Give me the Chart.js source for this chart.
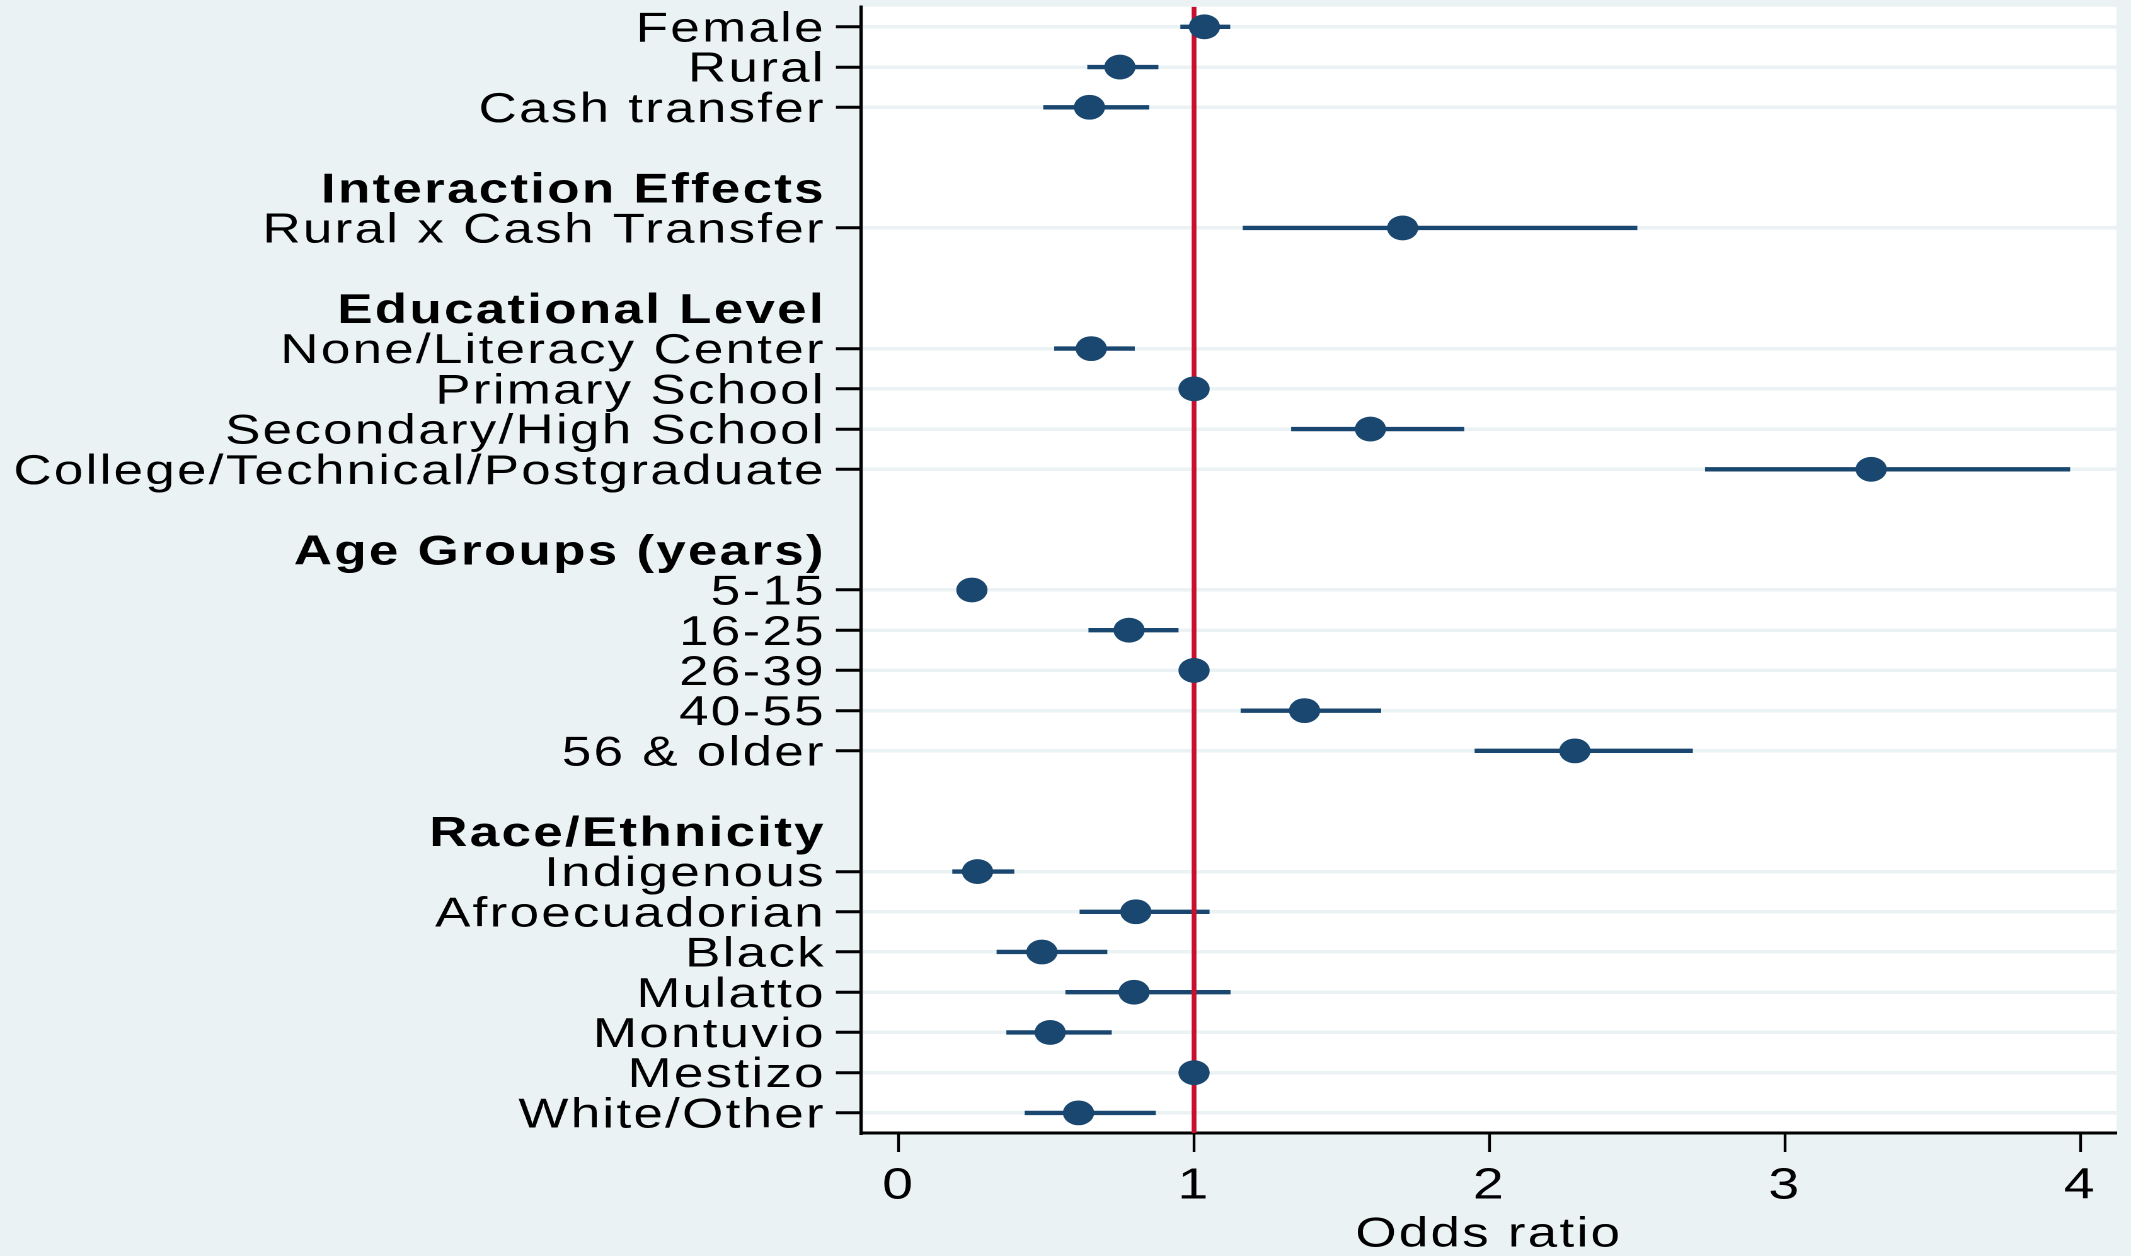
<!DOCTYPE html>
<html>
<head>
<meta charset="utf-8">
<script src="https://cdn.jsdelivr.net/npm/chart.js@4.4.1/dist/chart.umd.min.js"></script>
<style>
html, body { margin: 0; padding: 0; background: #eaf2f3; overflow: hidden; width: 2131px; height: 1256px; }
#wrap { position: absolute; left: 0; top: 0; width: 1691px; height: 1256px; transform: scaleX(1.26020); transform-origin: 0 0; }
</style>
</head>
<body>
<div id="wrap"><canvas id="c" width="1691" height="1256"></canvas></div>
<script>
// ---- data ----
const rowLabels = [
  'Female', 'Rural', 'Cash transfer', '',
  'Interaction Effects', 'Rural x Cash Transfer', '',
  'Educational Level', 'None/Literacy Center', 'Primary School', 'Secondary/High School', 'College/Technical/Postgraduate', '',
  'Age Groups (years)', '5-15', '16-25', '26-39', '40-55', '56 & older', '',
  'Race/Ethnicity', 'Indigenous', 'Afroecuadorian', 'Black', 'Mulatto', 'Montuvio', 'Mestizo', 'White/Other'
];
const headerLabels = ['Interaction Effects', 'Educational Level', 'Age Groups (years)', 'Race/Ethnicity'];
const oddsRatio = [1.035, 0.749, 0.646, null, null, 1.706, null, null, 0.652, 1.0, 1.597, 3.292, null,
                   null, 0.248, 0.780, 1.0, 1.374, 2.289, null, null, 0.267, 0.803, 0.485, 0.797, 0.513, 1.0, 0.609];
const ciLower   = [0.955, 0.640, 0.491, null, null, 1.166, null, null, 0.528, null, 1.330, 2.731, null,
                   null, 0.220, 0.644, null, 1.159, 1.951, null, null, 0.183, 0.614, 0.333, 0.566, 0.366, null, 0.428];
const ciUpper   = [1.121, 0.878, 0.847, null, null, 2.499, null, null, 0.798, null, 1.913, 3.964, null,
                   null, 0.280, 0.946, null, 1.632, 2.687, null, null, 0.390, 1.051, 0.705, 1.122, 0.720, null, 0.869];
const xTicks = [0, 1, 2, 3, 4];
const referenceLine = 1;
const xTitle = 'Odds ratio';

// ---- styling ----
const FAMILY = '"Liberation Sans", Arial, Helvetica, sans-serif';
const NAVY = '#1a476f';
const RED = '#c8102e';
const GRID = '#eaf2f3';
const BG = '#eaf2f3';
const SPACING = '1.8px';

const rows = rowLabels.map((_, i) => i);
const isHeader = i => headerLabels.includes(rowLabels[i]);
const isData = i => rowLabels[i] !== '' && !isHeader(i);

const pointData = rows.filter(i => oddsRatio[i] !== null).map(i => ({ x: oddsRatio[i], y: i }));
const ciData = rows.filter(i => ciLower[i] !== null).map(i => ({ x: [ciLower[i], ciUpper[i]], y: i }));

const spacingPlugin = {
  id: 'spacing',
  beforeUpdate(c) { c.ctx.letterSpacing = SPACING; },
  beforeLayout(c) { c.ctx.letterSpacing = SPACING; },
  beforeDraw(c) { c.ctx.letterSpacing = SPACING; }
};
const bgPlugin = {
  id: 'bg',
  beforeDraw(c) {
    const { ctx, chartArea: a } = c;
    ctx.save();
    ctx.fillStyle = BG;
    ctx.fillRect(0, 0, c.width, c.height);
    ctx.fillStyle = '#ffffff';
    ctx.fillRect(a.left, a.top, a.right - a.left, a.bottom - a.top);
    ctx.restore();
  }
};

new Chart(document.getElementById('c'), {
  type: 'scatter',
  data: {
    datasets: [
      { type: 'scatter', data: pointData, backgroundColor: NAVY, borderWidth: 0,
        pointRadius: 12.4, pointHoverRadius: 12.4, order: 0 },
      { type: 'line', data: [{ x: referenceLine, y: -0.5 }, { x: referenceLine, y: rowLabels.length - 0.5 }],
        borderColor: RED, borderWidth: 3.8, pointRadius: 0, fill: false, order: 1 },
      { type: 'bar', indexAxis: 'y', data: ciData, backgroundColor: NAVY, borderWidth: 0,
        barThickness: 3.7, borderSkipped: false, order: 2 }
    ]
  },
  options: {
    responsive: false,
    animation: false,
    devicePixelRatio: 2,
    layout: { autoPadding: false, padding: { top: 6.7, right: 11.6, bottom: 0, left: 0 } },
    plugins: { legend: { display: false }, tooltip: { enabled: false } },
    scales: {
      x: {
        type: 'linear', position: 'bottom', min: -0.127, max: 4.122, offset: false,
        afterBuildTicks: s => { s.ticks = xTicks.map(v => ({ value: v })); },
        afterFit: s => { s.height = 123; s.paddingLeft = 0; s.paddingRight = 0; },
        grid: { drawOnChartArea: false, drawTicks: true, tickLength: 19, tickWidth: 2.2, tickColor: '#000' },
        border: { display: true, color: '#000', width: 3 },
        ticks: { color: '#000', font: { family: FAMILY, size: 44 }, padding: 8, maxRotation: 0, autoSkip: false },
        title: { display: true, text: xTitle, color: '#000', font: { family: FAMILY, size: 42, lineHeight: 1 },
                 padding: { top: 0, bottom: 0 } }
      },
      y: {
        type: 'linear', position: 'left', reverse: true, min: -0.5, max: rowLabels.length - 0.5, offset: false,
        afterBuildTicks: s => { s.ticks = rows.map(v => ({ value: v })); },
        afterFit: s => { s.width = 683.3; s.paddingTop = 0; s.paddingBottom = 0; },
        grid: {
          offset: false,
          color: c => (c.tick && isData(c.tick.value)) ? GRID : 'rgba(0,0,0,0)',
          lineWidth: 3.5,
          drawTicks: true, tickLength: 20, tickWidth: 3,
          tickColor: c => (c.tick && isData(c.tick.value)) ? '#000' : 'rgba(0,0,0,0)'
        },
        border: { display: true, color: '#000', width: 2.6 },
        ticks: {
          autoSkip: false, padding: 8, labelOffset: 3, color: '#000',
          font: c => ({ family: FAMILY, size: 42, weight: (c.tick && isHeader(c.tick.value)) ? 'bold' : 'normal' }),
          callback: v => rowLabels[v] ?? ''
        }
      }
    }
  },
  plugins: [bgPlugin, spacingPlugin]
});
</script>
</body>
</html>
